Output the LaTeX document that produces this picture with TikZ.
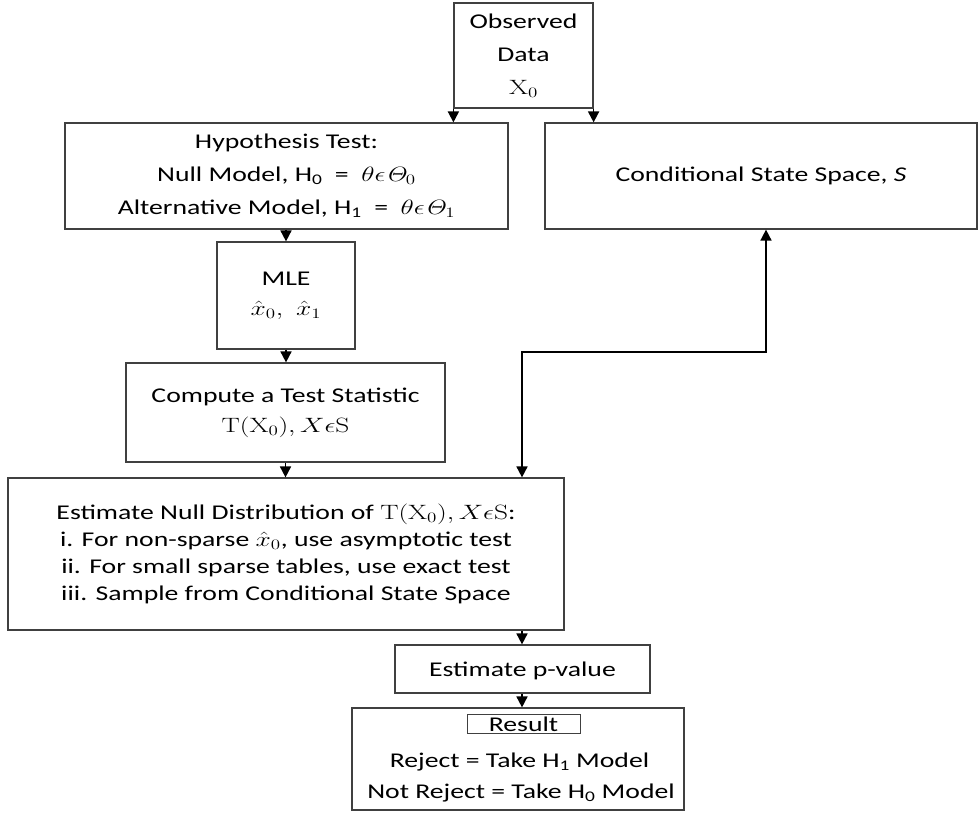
\documentclass[tikz,border=0pt]{standalone}
\usepackage{graphicx}
\usepackage[no-math]{fontspec}
\setmainfont{Carlito}[FakeStretch=1.32]
\usetikzlibrary{arrows.meta,calc}
\newcommand{\mth}[1]{\scalebox{1.32}[1]{$#1$}}
\newcommand{\fs}[1]{\fontsize{21}{#1}\selectfont}
\tikzset{
  box/.style={draw=black!75, line width=1.2pt, align=center, inner sep=0pt},
  lbl/.style={inner sep=0pt, font=\fs{26}},
  conn/.style={line width=1.7pt, -{Triangle[length=11pt,width=11pt]}},
  dconn/.style={line width=1.7pt, {Triangle[length=11pt,width=11pt]}-{Triangle[length=11pt,width=11pt]}},
}
\begin{document}
\begin{tikzpicture}[x=1pt,y=1pt]
\useasboundingbox (0,0) rectangle (979,-812);
\node[box, font=\fs{33}, minimum width=139pt, minimum height=105pt] (obs) at (523.5,-55.5) {Observed\\Data\\\mth{\mathrm{X}_0}};
\node[box, font=\fs{33}, minimum width=443pt, minimum height=106pt] (hyp) at (286.5,-176) {Hypothesis Test:\\Null Model, H\textsubscript{0}\ \ =\ \ \mth{\theta\epsilon\mathit{\Theta}_0}\\Alternative Model, H\textsubscript{1}\ \ =\ \ \mth{\theta\epsilon\mathit{\Theta}_1}};
\node[box, font=\fs{33}, minimum width=432pt, minimum height=106pt] (css) at (761,-176) {Conditional State Space, \textit{S}};
\node[box, font=\fs{30}, minimum width=138pt, minimum height=107pt] (mle) at (286,-295.5) {MLE\\\mth{\hat{x}_0,\ \hat{x}_1}};
\node[box, font=\fs{30}, minimum width=319pt, minimum height=99pt] (comp) at (285.5,-412.5) {Compute a Test Statistic\\\mth{\mathrm{T}(\mathrm{X}_0), X\epsilon\mathrm{S}}};
\node[box, font=\fs{27}, minimum width=556pt, minimum height=152pt] (est) at (286,-554) {Estimate Null Distribution of \mth{\mathrm{T}(\mathrm{X}_0), X\epsilon\mathrm{S}}:\\i. For non-sparse \mth{\hat{x}_0}, use asymptotic test\\ii. For small sparse tables, use exact test\\iii. Sample from Conditional State Space};
\node[box, font=\fs{26}, minimum width=255pt, minimum height=48pt, text height=15pt, text depth=0pt] (pval) at (522.5,-669) {Estimate p-value};
\node[box, minimum width=332pt, minimum height=102pt] (res) at (518,-759) {};
\node[box, font=\fs{26}, line width=1pt, minimum width=113pt, minimum height=19pt, text height=15pt, text depth=0pt] (resl) at (523.5,-723.5) {Result};
\node[lbl, anchor=base] (rej) at (519.5,-767) {Reject = Take H\textsubscript{1} Model};
\node[lbl, anchor=base] (nrej) at (521,-798) {Not Reject = Take H\textsubscript{0} Model};
\coordinate (j) at (522,-352);
\draw[conn] (obs.south west) -- (obs.south west |- hyp.north);
\draw[conn] (obs.south east) -- (obs.south east |- css.north);
\draw[conn] (mle.north |- hyp.south) -- (mle.north);
\draw[conn] (mle.south) -- (mle.south |- comp.north);
\draw[conn] (comp.south) -- (comp.south |- est.north);
\draw[dconn] ([xshift=5pt]css.south) |- (j) -- (j |- est.north);
\draw[conn] (j |- est.south) -- (j |- pval.north);
\draw[conn] (j |- pval.south) -- (j |- res.north);
\end{tikzpicture}
\end{document}
